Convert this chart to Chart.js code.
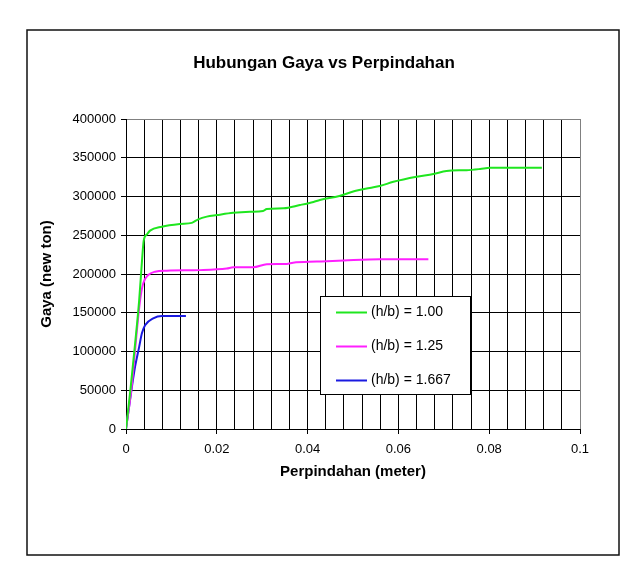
<!DOCTYPE html>
<html><head><meta charset="utf-8">
<script src="https://cdn.jsdelivr.net/npm/chart.js@4.4.0/dist/chart.umd.min.js"></script>
<style>html,body{margin:0;padding:0;background:#fff;}</style>
</head><body>
<canvas id="c" width="640" height="585"></canvas>
<script>
const chartTitle = "Hubungan Gaya vs Perpindahan";
const xAxisTitle = "Perpindahan (meter)";
const yAxisTitle = "Gaya (new ton)";
const seriesLabels = ["(h/b) = 1.00", "(h/b) = 1.25", "(h/b) = 1.667"];
const seriesColors = ["#1fe61f", "#ff1fff", "#1a1ae0"];

const xTickLabels = ["0", "0.02", "0.04", "0.06", "0.08", "0.1"];
const yTickLabels = ["0","50000","100000","150000","200000","250000","300000","350000","400000"];

const disp100  = [0, 0.001, 0.002, 0.0029, 0.0035, 0.0039, 0.0046, 0.0053, 0.0079, 0.0119, 0.0145, 0.0159, 0.0178, 0.02, 0.0236, 0.0273, 0.0302, 0.031, 0.0347, 0.0383, 0.0413, 0.0427, 0.047, 0.0504, 0.0537, 0.0559, 0.0589, 0.064, 0.0677, 0.0706, 0.075, 0.078, 0.0802, 0.0916];
const force100 = [0, 52000, 110000, 166000, 215000, 243000, 251000, 256000, 261000, 264500, 266000, 270500, 274000, 276000, 279000, 280400, 281300, 284000, 284800, 289000, 293000, 295500, 300600, 307000, 311000, 313500, 319000, 325500, 329000, 333000, 334000, 335500, 337000, 337000];

const disp125  = [0, 0.00125, 0.002, 0.0031, 0.0038, 0.0049, 0.0064, 0.009, 0.0163, 0.0222, 0.0236, 0.028, 0.031, 0.0354, 0.0368, 0.042, 0.048, 0.0559, 0.0666];
const force125 = [0, 54600, 102000, 166000, 188000, 198700, 203000, 204300, 205000, 207000, 208600, 208600, 212500, 213000, 214600, 216000, 217500, 219000, 219000];

const disp1667  = [0, 0.00088, 0.002, 0.0029, 0.0035, 0.0042, 0.006, 0.0079, 0.0132];
const force1667 = [0, 37400, 80400, 106000, 123500, 134000, 142800, 145800, 145800];

const xs = [disp100, disp125, disp1667];
const ys = [force100, force125, force1667];

const FONT = "'Liberation Sans', Arial, sans-serif";
Chart.defaults.font.family = FONT;
Chart.defaults.color = '#000';

function isMajorX(v){ return Math.abs(v/0.02 - Math.round(v/0.02)) < 1e-6; }

const framePlugin = {
  id: 'frame',
  beforeDraw(chart){
    const c = chart.ctx;
    c.save();
    c.fillStyle = '#fff';
    c.fillRect(0,0,chart.width,chart.height);
    c.strokeStyle = '#111';
    c.lineWidth = 1.5;
    c.strokeRect(27, 30, 592, 525);
    c.fillStyle = '#000';
    c.font = "bold 17px " + FONT;
    c.textAlign = 'center';
    c.textBaseline = 'middle';
    c.fillText(chartTitle, 324, 63);
    c.restore();
  },
  afterDraw(chart){
    const c = chart.ctx;
    c.save();
    const bx = 320.5, by = 296.5, bw = 150, bh = 98;
    c.fillStyle = '#fff';
    c.fillRect(bx, by, bw, bh);
    c.strokeStyle = '#000';
    c.lineWidth = 1;
    c.strokeRect(bx, by, bw, bh);
    c.font = "14px " + FONT;
    c.textAlign = 'left';
    c.textBaseline = 'middle';
    chart.data.datasets.forEach((ds, i) => {
      const y = 312.5 + i * 34;
      c.strokeStyle = ds.borderColor;
      c.lineWidth = 2;
      c.beginPath();
      c.moveTo(336, y);
      c.lineTo(367, y);
      c.stroke();
      c.fillStyle = '#000';
      c.fillText(ds.label, 371, y);
    });
    c.restore();
  }
};

const datasets = seriesLabels.map((lab, i) => ({
  label: lab,
  data: xs[i].map((x, j) => ({x: x, y: ys[i][j]})),
  borderColor: seriesColors[i],
  backgroundColor: seriesColors[i],
  borderWidth: 2,
  pointRadius: 0,
  showLine: true,
  cubicInterpolationMode: 'monotone',
  fill: false
}));

const PAD_L = 38, PAD_B = 104;

new Chart(document.getElementById('c'), {
  type: 'scatter',
  data: { datasets },
  plugins: [framePlugin],
  options: {
    responsive: false,
    animation: false,
    devicePixelRatio: 1,
    layout: { padding: { left: PAD_L, right: 60, top: 119, bottom: PAD_B } },
    plugins: { legend: { display: false }, title: { display: false }, tooltip: { enabled: false } },
    scales: {
      x: {
        type: 'linear', min: 0, max: 0.1,
        afterFit(s){ s.height = 585 - PAD_B - 429; s.paddingLeft = 0; s.paddingRight = 0; s.paddingTop = 0; s.paddingBottom = 0; },
        ticks: {
          stepSize: 0.004, autoSkip: false, maxRotation: 0, padding: 8,
          font: { size: 13 }, color: '#000',
          callback(v){ if (!isMajorX(v)) return ''; const k = Math.round(v/0.02); return xTickLabels[k]; }
        },
        grid: {
          color: (c) => (c.tick && Math.abs(c.tick.value - 0.1) < 1e-9) ? '#808080' : '#000',
          lineWidth: 1,
          drawTicks: true, tickLength: 5,
          tickColor: (c) => (c.tick && isMajorX(c.tick.value)) ? '#000' : 'rgba(0,0,0,0)'
        },
        border: { color: '#000', width: 1 },
        title: { display: true, text: xAxisTitle, font: { size: 15, weight: 'bold' }, color: '#000', padding: 0 }
      },
      y: {
        type: 'linear', min: 0, max: 400000,
        afterFit(s){ s.width = 126 - PAD_L; s.paddingLeft = 0; s.paddingRight = 0; s.paddingTop = 0; s.paddingBottom = 0; },
        ticks: {
          stepSize: 50000, padding: 5, font: { size: 13 }, color: '#000',
          callback(v){ const k = Math.round(v/50000); return yTickLabels[k]; }
        },
        grid: {
          color: (c) => (c.tick && c.tick.value === 400000) ? '#808080' : '#000',
          lineWidth: 1,
          drawTicks: true, tickLength: 5, tickColor: '#000'
        },
        border: { color: '#000', width: 1 },
        title: { display: true, text: yAxisTitle, font: { size: 15, weight: 'bold' }, color: '#000', padding: 0 }
      }
    }
  }
});
</script>
</body></html>
